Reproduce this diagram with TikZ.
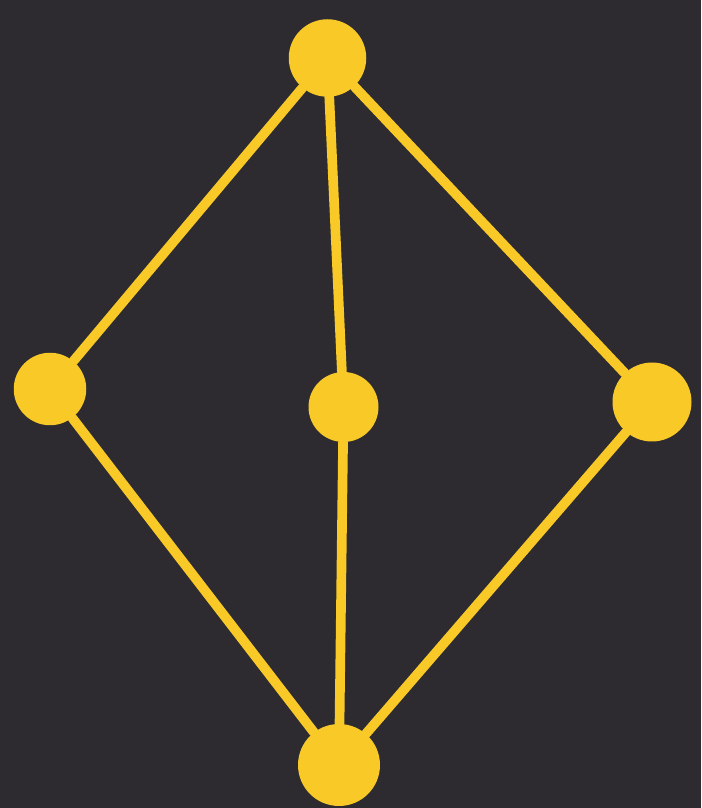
\documentclass[tikz,border=0pt]{standalone}
\usepackage{tikz}
\usetikzlibrary{positioning}
\definecolor{chalkboard}{HTML}{2D2B30}
\definecolor{chalkyellow}{HTML}{F8C927}

\begin{document}
\begin{tikzpicture}[
        vertex/.style = {circle, fill=chalkyellow, draw=none, inner sep=0pt, minimum size=1.45cm},
        edge/.style = {draw=chalkyellow, line width=5.5pt, line cap=round}
    ]

        % tafel
        \fill[chalkboard] (0,0) rectangle (14.02,16.16);
        \useasboundingbox (0,0) rectangle (14.02,16.16);

        \node (top) [vertex, minimum size=1.55cm] at (6.55,15.0) {};
        \node (left) [vertex, minimum size=1.45cm] at (1.0,8.38) {};
        \node (mid) [vertex, minimum size=1.4cm] at (6.87,8.02) {};
        \node (right) [vertex, minimum size=1.58cm] at (13.04,8.12) {};
        \node (bottom) [vertex, minimum size=1.64cm] at (6.78,0.86) {};

        \draw [edge] (top) -- (left);
        \draw [edge] (top) -- (mid);
        \draw [edge] (top) -- (right);
        \draw [edge] (left) -- (bottom);
        \draw [edge] (mid) -- (bottom);
        \draw [edge] (right) -- (bottom);

    \end{tikzpicture}
\end{document}
